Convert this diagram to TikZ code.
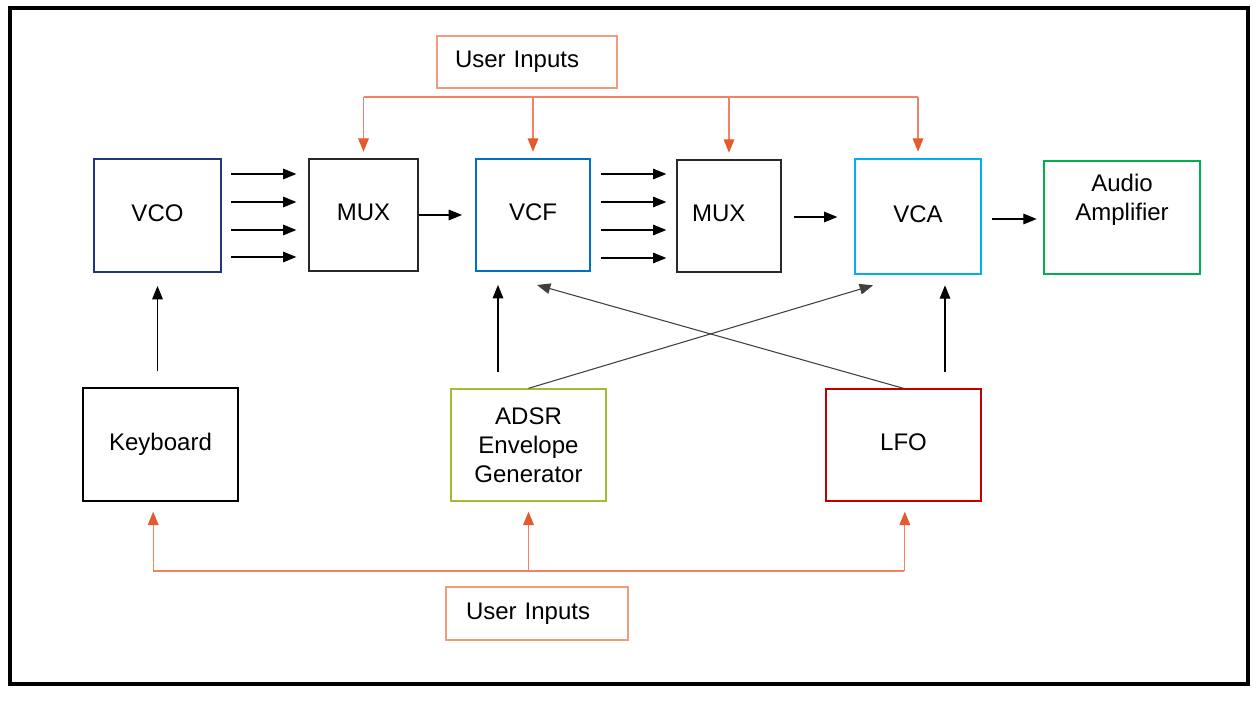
\documentclass[tikz,border=0pt]{standalone}
\usepackage{fontspec}
\setmainfont{Liberation Sans}
\usetikzlibrary{arrows.meta}

\definecolor{vcoblue}{RGB}{32,56,120}
\definecolor{vcfblue}{RGB}{0,112,192}
\definecolor{vcacyan}{RGB}{0,176,240}
\definecolor{ampgreen}{RGB}{0,176,80}
\definecolor{adsrgreen}{RGB}{160,190,50}
\definecolor{lfored}{RGB}{192,0,0}
\definecolor{muxgray}{RGB}{40,40,40}
\definecolor{uiborder}{RGB}{242,155,125}
\definecolor{uiline}{RGB}{242,130,100}
\definecolor{uihead}{RGB}{228,90,45}

\begin{document}
\begin{tikzpicture}[x=0.75pt, y=-0.75pt,
  every node/.style={font=\fontsize{18}{21.75}\selectfont},
  block/.style n args={3}{draw=#1, line width=1pt, inner sep=0pt,
    minimum width=#2*0.75pt, minimum height=#3*0.75pt},
  lift/.style={text depth=4pt},
  uibox/.style={draw=uiborder, line width=1pt, align=left, inner ysep=0pt},
  sig/.style={-{Triangle[length=10pt,width=8pt]}, line width=0.8pt},
  cross/.style={sig, draw=black!75},
  bus/.style={draw=uiline, line width=0.9pt},
  uiarrow/.style={bus, -{Triangle[length=10pt,width=8pt,color=uihead]}}]

  \useasboundingbox (0,0) rectangle (1256,702);
  \draw [line width=3pt] (10,8) rectangle (1248,684);

  % top row
  \node (VCO) [block={vcoblue}{127}{113}, lift] at (157.5,215.5) {VCO};
  \node (MUX1) [block={muxgray}{109}{112}, lift] at (363.5,215) {MUX};
  \node (VCF) [block={vcfblue}{114}{112}, lift] at (533,215) {VCF};
  \node (MUX2) [block={muxgray}{104}{112}, lift, align=left,
    text width=55.5pt, inner xsep=11.25pt] at (729,216) {MUX};
  \node (VCA) [block={vcacyan}{126}{115}, lift] at (918,216.5) {VCA};
  \node (AMP) [block={ampgreen}{156}{113},
    label={[align=center, yshift=13.5pt]center:Audio\\Amplifier}] at (1122,217.5) {};

  % bottom row
  \node (KEY) [block={black}{155}{113}, lift] at (160.5,444.5) {Keyboard};
  \node (ADSR) [block={adsrgreen}{155}{112}, align=center] at (528.5,445)
    {ADSR\\Envelope\\Generator};
  \node (LFO) [block={lfored}{155}{112}, lift] at (903.5,445) {LFO};

  % user inputs
  \node (UItop) [uibox, minimum height=39pt, text width=108pt, inner xsep=13.5pt]
    at (527,62) {User Inputs};
  \node (UIbot) [uibox, minimum height=39.75pt, text width=106.5pt, inner xsep=15pt]
    at (537,613.5) {User Inputs};
  \coordinate (topbus) at (0,97);
  \coordinate (botbus) at (0,571);
  \coordinate (VCFin) at ([xshift=-26.25pt]VCF.south);
  \coordinate (VCAin) at ([xshift=20.25pt]VCA.south);

  % signal path
  \foreach \y in {174,202,230,257}
    \draw [sig] ([xshift=7pt]VCO.east |- 0,\y) -- ([xshift=-9pt]MUX1.west |- 0,\y);
  \draw [sig] (MUX1.east) -- ([xshift=-10pt]VCF.west);
  \foreach \y in {174,202,230,258}
    \draw [sig] ([xshift=8pt]VCF.east |- 0,\y) -- ([xshift=-7.5pt]MUX2.west |- 0,\y);
  \draw [sig] ([xshift=9pt]MUX2.east |- 0,217) -- ([xshift=-12.75pt]VCA.west |- 0,217);
  \draw [sig] ([xshift=7.5pt]VCA.east |- 0,219) -- ([xshift=-5pt]AMP.west |- 0,219);

  % control inputs
  \draw [sig] ([yshift=12pt]KEY.north -| VCO.south) -- ([yshift=-10pt]VCO.south);
  \draw [sig] ([yshift=12pt]ADSR.north -| VCFin) -- ([yshift=-10pt]VCFin);
  \draw [sig] ([yshift=12pt]LFO.north -| VCAin) -- ([yshift=-8pt]VCAin);
  \draw [cross] (ADSR.north) -- ([xshift=-33.75pt, yshift=-8pt]VCA.south);
  \draw [cross] (LFO.north) -- ([xshift=3pt, yshift=-10pt]VCF.south);

  % user input buses
  \draw [bus] (MUX1.north |- topbus) -- (VCA.north |- topbus);
  \foreach \n in {MUX1,VCF,MUX2,VCA}
    \draw [uiarrow] (\n.north |- topbus) -- ([yshift=5pt]\n.north);
  \draw [bus] ([xshift=-5.5pt]KEY.south |- botbus) -- (LFO.south |- botbus);
  \foreach \n/\dx in {KEY/-5.5pt,ADSR/0pt,LFO/1pt}
    \draw [uiarrow] ([xshift=\dx]\n.south |- botbus) -- ([xshift=\dx, yshift=-7.5pt]\n.south);

\end{tikzpicture}
\end{document}
